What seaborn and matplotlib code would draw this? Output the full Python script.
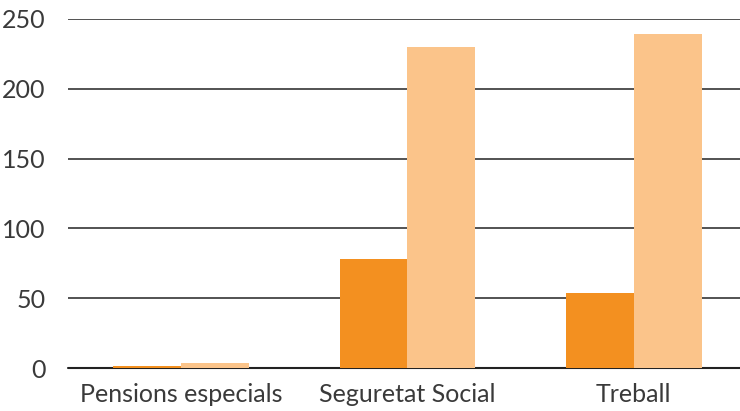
import pandas as pd
import matplotlib
matplotlib.use("Agg")
import matplotlib.pyplot as plt
import seaborn as sns

# data
categories = ["Pensions especials", "Seguretat Social", "Treball"]
series_a = [1.5, 78, 54]
series_b = [3.5, 230, 239]
series_names = ["A", "B"]
colors = ["#F39020", "#FBC48A"]

df = pd.DataFrame({
    "categoria": categories * 2,
    "valor": series_a + series_b,
    "serie": [series_names[0]] * 3 + [series_names[1]] * 3,
})

sns.set_theme(style="white")
plt.rcParams["font.family"] = ["Lato", "DejaVu Sans"]

fig = plt.figure(figsize=(7.4, 4.11), dpi=100)
ax = fig.add_axes([0.092, 0.1046, 0.908, 0.8492])

sns.barplot(data=df, x="categoria", y="valor", hue="serie", palette=colors,
            width=0.6, gap=0, saturation=1, legend=False, linewidth=0,
            ax=ax, zorder=2)

ax.set_ylim(0, 250)
ax.set_xlim(-0.5, 2.47)
ax.set_yticks([0, 50, 100, 150, 200, 250])
for y in [50, 100, 150, 200, 250]:
    ax.axhline(y, color="#444444", lw=1.3, zorder=0)
ax.axhline(0, color="#222222", lw=1.5, zorder=1, clip_on=False)

for s in ax.spines.values():
    s.set_visible(False)
ax.set_xlabel("")
ax.set_ylabel("")
ax.tick_params(axis="both", length=0, labelsize=18, colors="#3a3a3a")
ax.tick_params(axis="y", pad=16)
ax.tick_params(axis="x", pad=11)

fig.savefig("out.png", dpi=100)
